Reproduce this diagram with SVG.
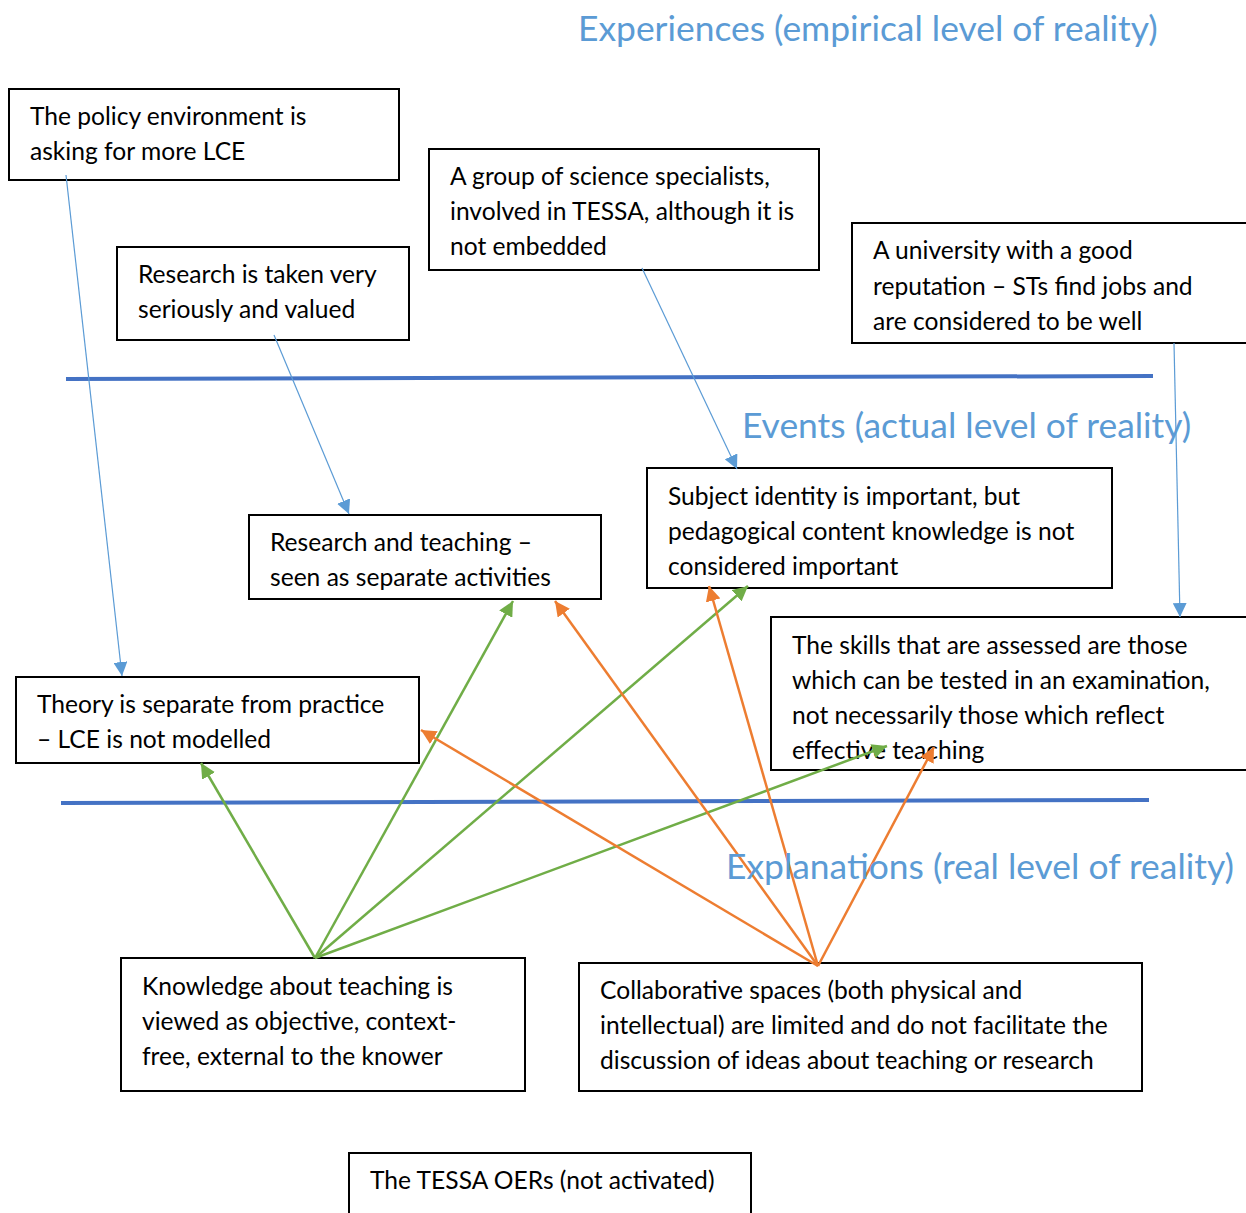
<svg xmlns="http://www.w3.org/2000/svg" width="1246" height="1213" viewBox="0 0 1246 1213">
<style>
.box{fill:#fff;stroke:#000;stroke-width:2}
.t{font-family:Lato,"Liberation Sans",sans-serif;font-size:24.6px;fill:#000}
.h{font-family:Lato,"Liberation Sans",sans-serif;font-size:35.4px;fill:#5B9BD5}
.blue{stroke:#5B9BD5;stroke-width:1.2;fill:none}
.green{stroke:#70AD47;stroke-width:2.5;fill:none}
.orange{stroke:#ED7D31;stroke-width:2.5;fill:none}
.sep{stroke:#4472C4;stroke-width:4}
</style>
<defs>
<marker id="ab" viewBox="0 0 10 10" refX="10" refY="5" markerWidth="14" markerHeight="14" markerUnits="userSpaceOnUse" orient="auto"><path d="M0,0L10,5L0,10z" fill="#5B9BD5"/></marker>
<marker id="ag" viewBox="0 0 10 10" refX="10" refY="5" markerWidth="6" markerHeight="6" orient="auto"><path d="M0,0L10,5L0,10z" fill="#70AD47"/></marker>
<marker id="ao" viewBox="0 0 10 10" refX="10" refY="5" markerWidth="6" markerHeight="6" orient="auto"><path d="M0,0L10,5L0,10z" fill="#ED7D31"/></marker>
<clipPath id="cs"><rect x="771" y="617" width="475" height="152"/></clipPath>
</defs>
<rect width="1246" height="1213" fill="#fff"/>
<text class="h" x="578" y="41">Experiences (empirical level of reality)</text>
<text class="h" x="742" y="438">Events (actual level of reality)</text>
<line class="sep" x1="66" y1="379" x2="1153" y2="376"/>
<line class="sep" x1="61" y1="803" x2="1149" y2="800"/>
<g id="n1"><rect class="box" x="9" y="89" width="390" height="91"/><text class="t" x="30" y="125">The policy environment is</text><text class="t" x="30" y="160">asking for more LCE</text></g>
<g id="n2"><rect class="box" x="429" y="149" width="390" height="121"/><text class="t" x="450" y="185">A group of science specialists,</text><text class="t" x="450" y="220">involved in TESSA, although it is</text><text class="t" x="450" y="255">not embedded</text></g>
<g id="n3"><rect class="box" x="852" y="223" width="400" height="120"/><text class="t" x="873" y="259">A university with a good</text><text class="t" x="873" y="295">reputation – STs find jobs and</text><text class="t" x="873" y="330">are considered to be well</text></g>
<g id="n4"><rect class="box" x="117" y="247" width="292" height="93"/><text class="t" x="138" y="283">Research is taken very</text><text class="t" x="138" y="318">seriously and valued</text></g>
<g id="n5"><rect class="box" x="249" y="515" width="352" height="84"/><text class="t" x="270" y="551">Research and teaching –</text><text class="t" x="270" y="586">seen as separate activities</text></g>
<g id="n6"><rect class="box" x="647" y="468" width="465" height="120"/><text class="t" x="668" y="505">Subject identity is important, but</text><text class="t" x="668" y="540">pedagogical content knowledge is not</text><text class="t" x="668" y="575">considered important</text></g>
<g id="n7"><rect class="box" x="771" y="617" width="490" height="153"/><g clip-path="url(#cs)"><text class="t" x="792" y="654">The skills that are assessed are those</text><text class="t" x="792" y="689">which can be tested in an examination,</text><text class="t" x="792" y="724">not necessarily those which reflect</text><text class="t" x="792" y="759">effective teaching</text></g></g>
<g id="n8"><rect class="box" x="16" y="677" width="403" height="86"/><text class="t" x="37" y="713">Theory is separate from practice</text><text class="t" x="37" y="748">– LCE is not modelled</text></g>
<g id="n9"><rect class="box" x="121" y="958" width="404" height="133"/><text class="t" x="142" y="995">Knowledge about teaching is</text><text class="t" x="142" y="1030">viewed as objective, context-</text><text class="t" x="142" y="1065">free, external to the knower</text></g>
<g id="n10"><rect class="box" x="579" y="963" width="563" height="128"/><text class="t" x="600" y="999">Collaborative spaces (both physical and</text><text class="t" x="600" y="1034">intellectual) are limited and do not facilitate the</text><text class="t" x="600" y="1069">discussion of ideas about teaching or research</text></g>
<g id="n11"><rect class="box" x="349" y="1153" width="402" height="70"/><text class="t" x="370" y="1189">The TESSA OERs (not activated)</text></g>
<g id="connectors">
<line class="blue" x1="66" y1="175" x2="122" y2="676" marker-end="url(#ab)"/>
<line class="blue" x1="274" y1="335" x2="349" y2="514" marker-end="url(#ab)"/>
<line class="blue" x1="642" y1="268" x2="737" y2="469" marker-end="url(#ab)"/>
<line class="blue" x1="1174" y1="343" x2="1180" y2="617" marker-end="url(#ab)"/>
<line class="green" x1="315" y1="958" x2="201" y2="763" marker-end="url(#ag)"/>
<line class="green" x1="315" y1="958" x2="513" y2="601" marker-end="url(#ag)"/>
<line class="green" x1="315" y1="958" x2="748" y2="586" marker-end="url(#ag)"/>
<line class="green" x1="315" y1="958" x2="887" y2="746" marker-end="url(#ag)"/>
<line class="orange" x1="818" y1="966" x2="421" y2="730" marker-end="url(#ao)"/>
<line class="orange" x1="818" y1="966" x2="555" y2="601" marker-end="url(#ao)"/>
<line class="orange" x1="818" y1="966" x2="709" y2="586" marker-end="url(#ao)"/>
<line class="orange" x1="818" y1="966" x2="934" y2="747" marker-end="url(#ao)"/>
</g>
<text class="h" x="726" y="879">Explanations (real level of reality)</text>
</svg>
